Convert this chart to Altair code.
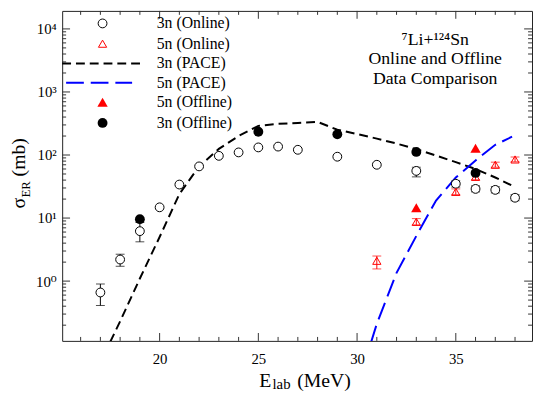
import altair as alt
import pandas as pd

FONT = "'Liberation Serif', 'Times New Roman', Times, 'DejaVu Serif', serif"

# ---------------- data ----------------
# 3n (Online) - open circles
e3_on = [17, 18, 19, 20, 21, 22, 23, 24, 25, 26, 27, 29, 31, 33, 35, 36, 37, 38]
s3_on = [0.66, 2.2, 6.2, 14.8, 34, 66, 97, 110, 132, 136, 121, 94, 70, 56, 35, 29, 28, 21]
e3_on_err = [17, 18, 19, 33, 35, 36, 37, 38]
lo3_on = [0.41, 1.72, 4.2, 45, 31, 26, 25, 18.8]
hi3_on = [0.90, 2.67, 8.5, 64, 39, 32.5, 31.5, 23.5]

# 5n (Online) - open red triangles
e5_on = [31, 33, 35, 36, 37, 38]
s5_on = [2.1, 8.7, 26, 45, 70, 85]
lo5_on = [1.56, 7.8, 23.5, 40.5, 64, 78]
hi5_on = [2.5, 9.8, 29, 50, 77, 93]

# Offline data
e3_off = [19, 25, 29, 33, 36]
s3_off = [9.6, 234, 213, 112, 52]
e5_off = [33, 36]
s5_off = [14.6, 128]

# PACE calculations
pace3_e = [17.5, 18, 19, 20, 21, 22, 23, 24, 25, 26, 27, 28, 29, 30, 31, 32, 33, 34, 35, 36, 37, 38]
pace3_s = [0.109, 0.23, 1.1, 5.0, 24, 66, 125, 200, 290, 312, 322, 335, 252, 215, 182, 152, 124, 98, 77, 60, 44, 31]
pace5_e = [30.7, 31, 32, 33, 34, 35, 36, 37, 37.85]
pace5_s = [0.105, 0.21, 1.35, 5.2, 19, 44, 82, 145, 195]

# axes
x_major = [20, 25, 30, 35]
x_minor = [16, 17, 18, 19, 21, 22, 23, 24, 26, 27, 28, 29, 31, 32, 33, 34, 36, 37, 38]
y_major = [1, 10, 100, 1000, 10000]
y_labels = ["10⁰", "10¹", "10²", "10³", "10⁴"]
y_minor = [k * 10 ** n for n in range(-1, 4) for k in range(2, 10)]

legend_labels = ["3n (Online)", "5n (Online)", "3n (PACE)", "5n (PACE)", "5n (Offline)", "3n (Offline)"]
note_lines = ["⁷Li+¹²⁴Sn", "Online and Offline", "Data Comparison"]

# ---------------- chart ----------------
W, H = 477, 335
xs = alt.Scale(domain=[15.065, 38.86], nice=False, zero=False)
ys = alt.Scale(type="log", domain=[0.1127, 19300], nice=False)

label_expr = "[" + ",".join("'%s'" % l for l in y_labels) + "][round(log(datum.value)/LN10)]"
ax_x = alt.Axis(values=x_major, ticks=False, domain=False, grid=False, title=None,
                labelFont=FONT, labelFontSize=15, labelColor="black", labelPadding=11,
                labelFlush=False)
ax_y = alt.Axis(values=y_major, labelExpr=label_expr, ticks=False, domain=False, grid=False,
                title=None, labelFont=FONT, labelFontSize=15, labelColor="black",
                labelPadding=6, labelFlush=False)

X = alt.X("E:Q", scale=xs, axis=ax_x)
Y = alt.Y("S:Q", scale=ys, axis=ax_y)

def df(e, s):
    return pd.DataFrame({"E": e, "S": s})

layers = []

# PACE curves
layers.append(alt.Chart(df(pace3_e, pace3_s)).mark_line(
    color="black", strokeWidth=2, strokeDash=[9, 5], clip=True).encode(x=X, y=Y))
layers.append(alt.Chart(df(pace5_e, pace5_s)).mark_line(
    color="#0000ff", strokeWidth=2, strokeDash=[18, 7], clip=True).encode(x=X, y=Y))

# error bars
def errbars(e, lo, hi, color):
    d = pd.DataFrame({"E": e, "S": lo, "S2": hi})
    bar = alt.Chart(d).mark_rule(color=color, strokeWidth=1).encode(
        x=X, y=Y, y2=alt.Y2("S2:Q"))
    cap_lo = alt.Chart(d).mark_tick(color=color, orient="horizontal", size=9, thickness=1).encode(
        x=X, y=Y)
    cap_hi = alt.Chart(d).mark_tick(color=color, orient="horizontal", size=9, thickness=1).encode(
        x=X, y=alt.Y("S2:Q", scale=ys, axis=ax_y))
    return [bar, cap_lo, cap_hi]

layers += errbars(e3_on_err, lo3_on, hi3_on, "black")
layers += errbars(e5_on, lo5_on, hi5_on, "#ff0000")

# open markers
layers.append(alt.Chart(df(e3_on, s3_on)).mark_point(
    shape="circle", filled=False, size=80, color="black", strokeWidth=1, opacity=1,
    fill="white", fillOpacity=1).encode(x=X, y=Y))
layers.append(alt.Chart(df(e5_on, s5_on)).mark_point(
    shape="triangle-up", filled=False, size=70, color="#ff0000", strokeWidth=1, opacity=1).encode(x=X, y=Y))

# filled markers
layers.append(alt.Chart(df(e5_off, s5_off)).mark_point(
    shape="triangle-up", filled=True, size=110, color="#ff0000", opacity=1).encode(x=X, y=Y))
layers.append(alt.Chart(df(e3_off, s3_off)).mark_point(
    shape="circle", filled=True, size=100, color="black", opacity=1).encode(x=X, y=Y))

# inward ticks on all four sides
def yticks(vals, length, right):
    x0 = W if right else 0
    x1 = W - length if right else length
    return alt.Chart(pd.DataFrame({"S": vals})).mark_rule(color="#333", strokeWidth=1).encode(
        y=Y, x=alt.value(x0), x2=alt.value(x1))

def xticks(vals, length, top):
    y0 = 0 if top else H
    y1 = length if top else H - length
    return alt.Chart(pd.DataFrame({"E": vals})).mark_rule(color="#333", strokeWidth=1).encode(
        x=X, y=alt.value(y0), y2=alt.value(y1))

for right in (False, True):
    layers.append(yticks(y_major, 8, right))
    layers.append(yticks(y_minor, 4, right))
for top in (False, True):
    layers.append(xticks(x_major, 8, top))
    layers.append(xticks(x_minor, 4, top))

# legend (inside plot, top-left)
dummy = pd.DataFrame({"d": [0]})
rows = [12.7, 33.3, 53.3, 73, 92.7, 113.7]
sym_x, txt_x = 41, 96
layers.append(alt.Chart(dummy).mark_point(shape="circle", filled=False, size=80, color="black",
              strokeWidth=1, opacity=1).encode(x=alt.value(sym_x), y=alt.value(rows[0])))
layers.append(alt.Chart(dummy).mark_point(shape="triangle-up", filled=False, size=70, color="#ff0000",
              strokeWidth=1, opacity=1).encode(x=alt.value(sym_x), y=alt.value(rows[1])))
layers.append(alt.Chart(dummy).mark_rule(color="black", strokeWidth=2, strokeDash=[9, 5]).encode(
    x=alt.value(0), x2=alt.value(79), y=alt.value(rows[2])))
layers.append(alt.Chart(dummy).mark_rule(color="#0000ff", strokeWidth=2, strokeDash=[18, 7]).encode(
    x=alt.value(4), x2=alt.value(71), y=alt.value(rows[3])))
layers.append(alt.Chart(dummy).mark_point(shape="triangle-up", filled=True, size=110, color="#ff0000",
              opacity=1).encode(x=alt.value(sym_x), y=alt.value(rows[4])))
layers.append(alt.Chart(dummy).mark_point(shape="circle", filled=True, size=100, color="black",
              opacity=1).encode(x=alt.value(sym_x), y=alt.value(rows[5])))
for lab, ry in zip(legend_labels, rows):
    layers.append(alt.Chart(dummy).mark_text(align="left", baseline="middle", font=FONT,
                  fontSize=16, color="black").encode(
        x=alt.value(txt_x), y=alt.value(ry), text=alt.value(lab)))

# annotation (top right)
for line, by in zip(note_lines, [34.5, 54, 74]):
    layers.append(alt.Chart(dummy).mark_text(align="center", baseline="alphabetic", font=FONT,
                  fontSize=18, color="black").encode(
        x=alt.value(378.7), y=alt.value(by), text=alt.value(line)))

# axis titles with subscripts
def txt(s, x, y, size, angle=0):
    m = alt.Chart(dummy).mark_text(align="left", baseline="alphabetic", font=FONT,
                                   fontSize=size, color="black", angle=angle)
    return m.encode(x=alt.value(x), y=alt.value(y), text=alt.value(s))

layers.append(txt("E", 200, 381.5, 20))
layers.append(txt("lab", 213.5, 384.3, 15))
layers.append(txt("(MeV)", 238.7, 381.5, 20))
layers.append(txt("σ", -38, 200.5, 20, 270))
layers.append(txt("ER", -33, 189.5, 13, 270))
layers.append(txt("(mb)", -38, 168, 20, 270))

chart = alt.layer(*layers).properties(
    width=W, height=H,
    padding={"left": 55, "top": 0, "right": 1, "bottom": 53},
    autosize=alt.AutoSizeParams(type="none"),
    background="white",
).configure_view(stroke="#222", strokeWidth=1)

chart.save("out.html", embed_options={"renderer": "svg", "actions": False})
